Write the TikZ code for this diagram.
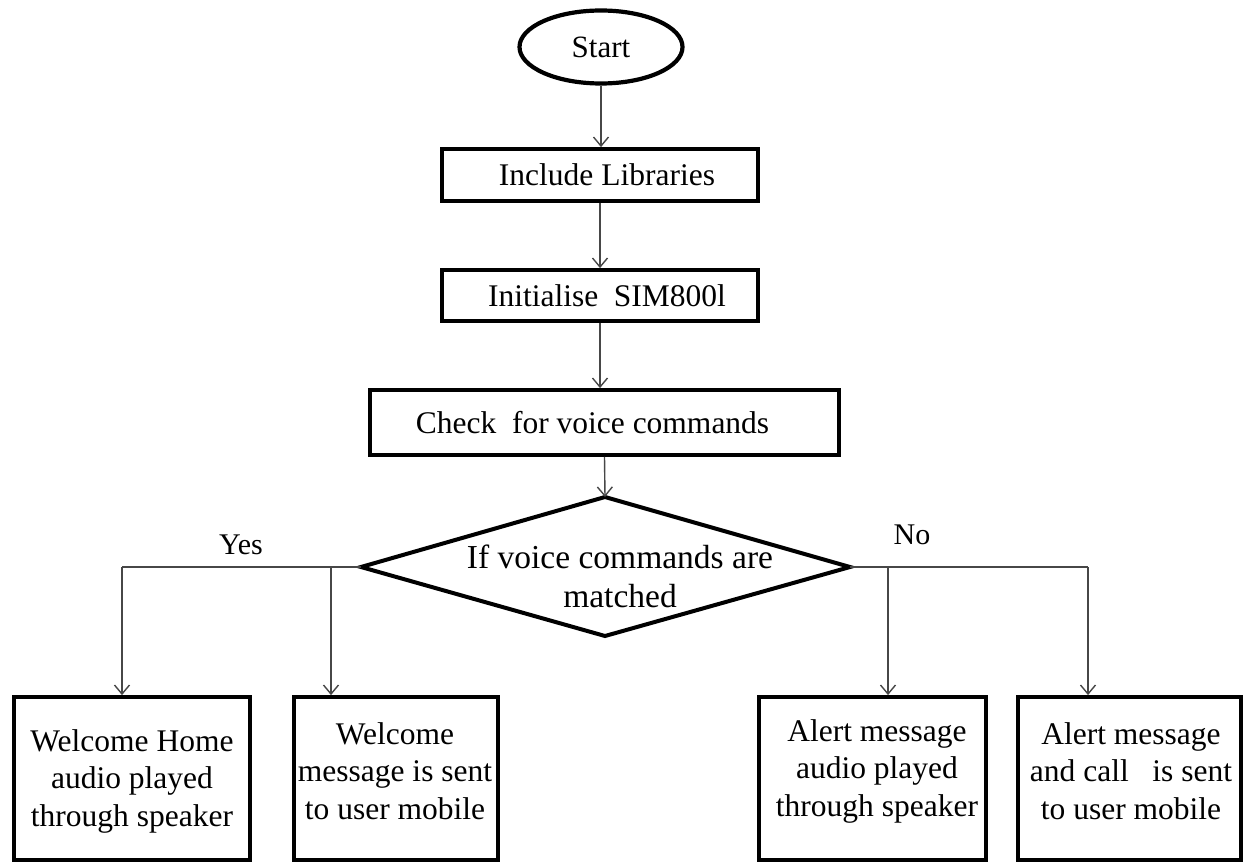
\documentclass[tikz,border=0pt]{standalone}
\usepackage{fontspec}
\setmainfont{Liberation Serif}
\usetikzlibrary{arrows.meta,shapes.geometric}
\begin{document}
\begin{tikzpicture}[x=1pt,y=-1pt,
  box/.style={draw=black, line width=3.8pt, rectangle, inner sep=0pt, align=center,
    font=\fontsize{31.5}{38}\selectfont},
  txt/.style={inner sep=0pt, align=center, font=\fontsize{31.5}{37.5}\selectfont},
  conn/.style={draw=black!72, line width=1.4pt},
  arr/.style={conn, -{Straight Barb[length=9pt,width=15pt]}},
  lbl/.style={inner sep=0pt, font=\fontsize{30}{34}\selectfont}]
\useasboundingbox (0,0) rectangle (1245,864);

% nodes
\node[draw=black, line width=4.2pt, ellipse, minimum width=163pt, minimum height=73pt,
      inner sep=0pt, font=\fontsize{31}{36}\selectfont] (start) at (601,47) {Start};
\node[box, minimum width=316pt, minimum height=52pt] (inc) at (600,175)
      {\hspace*{14pt}Include Libraries};
\node[box, minimum width=316pt, minimum height=51pt] (init) at (600,295.5)
      {\hspace*{14pt}Initialise\ \ SIM800l};
\node[box, minimum width=469pt, minimum height=65pt] (check) at (604.5,422.5)
      {Check\ \ for voice commands\hspace*{24pt}};

% decision diamond
\coordinate (dT) at (605,497);
\coordinate (dB) at (605,636);
\coordinate (dL) at (361,567);
\coordinate (dR) at (850,567);
\draw[line width=4pt, line join=miter] (dT) -- (dR) -- (dB) -- (dL) -- cycle;
\node[inner sep=0pt, align=center, font=\fontsize{33.5}{39}\selectfont] (dec) at (620,576)
      {If voice commands are\\matched};

% bottom boxes
\node[box, minimum width=236pt, minimum height=163pt] (b1) at (132,778.5) {};
\node[box, minimum width=204pt, minimum height=163pt] (b2) at (396,778.5) {};
\node[box, minimum width=227pt, minimum height=163pt] (b3) at (872.5,778.5) {};
\node[box, minimum width=223pt, minimum height=163pt] (b4) at (1129.5,778.5) {};
\node[txt] (t1) at (132,781) {Welcome Home\\audio played\\through speaker};
\node[txt] (t2) at (395,771) {Welcome\\message is sent\\to user mobile};
\node[txt] (t3) at (877,771) {Alert message\\audio played\\through speaker};
\node[txt] (t4) at (1131,771) {Alert message\\and call\ \ \ is sent\\to user mobile};

% labels
\node[lbl] (yes) at (241,545) {Yes};
\node[lbl] (no) at (912,535) {No};

% connectors
\draw[arr] (start.south) -- (start.south |- inc.north);
\draw[arr] (inc.south) -- (init.north);
\draw[arr] (init.south) -- (init.south |- check.north);
\draw[arr] (check.south) -- (dT);

\coordinate (yA) at (122,567);
\coordinate (yB) at (331,567);
\coordinate (nA) at (888,567);
\coordinate (nB) at (1088,567);
\draw[conn] (dL) -- (yA);
\draw[arr] (yA) -- (yA |- b1.north);
\draw[arr] (yB) -- (yB |- b2.north);
\draw[conn] (dR) -- (nB);
\draw[arr] (nA) -- (nA |- b3.north);
\draw[arr] (nB) -- (nB |- b4.north);
\end{tikzpicture}
\end{document}
